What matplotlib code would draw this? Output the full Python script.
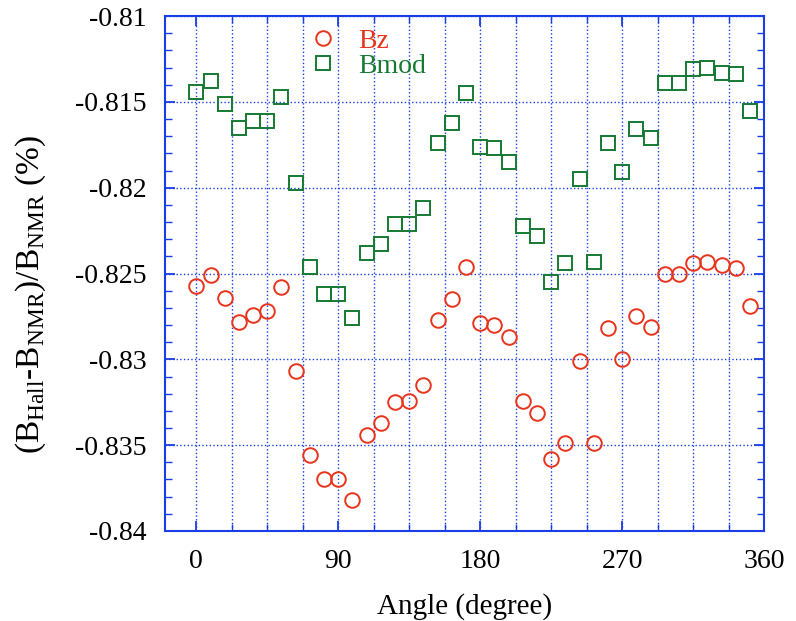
import matplotlib.pyplot as plt
import numpy as np
from matplotlib.ticker import MultipleLocator

plt.rcParams['font.family'] = ['Liberation Serif', 'DejaVu Serif']
plt.rcParams['mathtext.fontset'] = 'custom'
plt.rcParams['mathtext.rm'] = 'Liberation Serif'

angle = np.arange(0, 360, 9)
bz = [-0.8257, -0.8251, -0.8264, -0.8278, -0.8274, -0.8272, -0.8258, -0.8307,
      -0.8356, -0.8370, -0.8370, -0.8382, -0.8344, -0.8337, -0.8325, -0.8324,
      -0.8315, -0.8277, -0.8265, -0.8246, -0.8279, -0.8280, -0.8287, -0.8324,
      -0.8331, -0.8358, -0.8349, -0.8301, -0.8349, -0.8282, -0.8300, -0.8275,
      -0.8281, -0.8250, -0.8250, -0.8244, -0.8243, -0.8245, -0.8247, -0.8269]
bmod = [-0.8144, -0.8138, -0.8151, -0.8165, -0.8161, -0.8161, -0.8147, -0.8197,
        -0.8246, -0.8262, -0.8262, -0.8276, -0.8238, -0.8233, -0.8221, -0.8221,
        -0.8212, -0.8174, -0.8162, -0.8145, -0.8176, -0.8177, -0.8185, -0.8222,
        -0.8228, -0.8255, -0.8244, -0.8195, -0.8243, -0.8174, -0.8191, -0.8166,
        -0.8171, -0.8139, -0.8139, -0.8131, -0.8130, -0.8133, -0.8134, -0.8155]

red = '#e8341c'
green = '#157a32'
blue = '#1a3ee6'

fig = plt.figure(figsize=(7.96, 6.21), dpi=100)
ax = fig.add_axes([0.207, 0.145, 0.753, 0.829])

ax.plot(angle, bz, 'o', mfc='none', mec=red, mew=1.4, ms=10.5, label='Bz')
ax.plot(angle, bmod, 's', mfc='none', mec=green, mew=1.4, ms=10.5, label='Bmod')

ax.set_xlim(-20, 360)
ax.set_ylim(-0.84, -0.81)
ax.xaxis.set_major_locator(MultipleLocator(90))
ax.xaxis.set_minor_locator(MultipleLocator(22.5))
ax.yaxis.set_major_locator(MultipleLocator(0.005))
ax.yaxis.set_minor_locator(MultipleLocator(0.001))
ax.yaxis.set_major_formatter(plt.FuncFormatter(lambda v, p: ('%g' % round(v, 4))))

ax.grid(which='major', axis='y', color=blue, ls=':', lw=1)
ax.grid(which='both', axis='x', color=blue, ls=':', lw=1)
for s in ax.spines.values():
    s.set_color(blue)
    s.set_linewidth(1.5)
ax.tick_params(which='both', direction='in', color=blue, top=True, right=True)
ax.tick_params(which='major', length=7, width=1.3, labelsize=20, pad=13)
ax.tick_params(which='minor', length=5, width=1.0)

ax.set_xlabel('Angle (degree)', fontsize=21, labelpad=14)
ax.set_ylabel(r'(B$_{\mathrm{Hall}}$-B$_{\mathrm{NMR}}$)/B$_{\mathrm{NMR}}$ (%)', fontsize=24)
ax.yaxis.set_label_coords(-0.195, 0.46)

leg = ax.legend(loc='upper left', bbox_to_anchor=(0.195, 1.025), frameon=False, fontsize=20,
                handletextpad=0.65, labelspacing=0.0, handlelength=1.2)
for t, c in zip(leg.get_texts(), [red, green]):
    t.set_color(c)

plt.savefig('out.png')
